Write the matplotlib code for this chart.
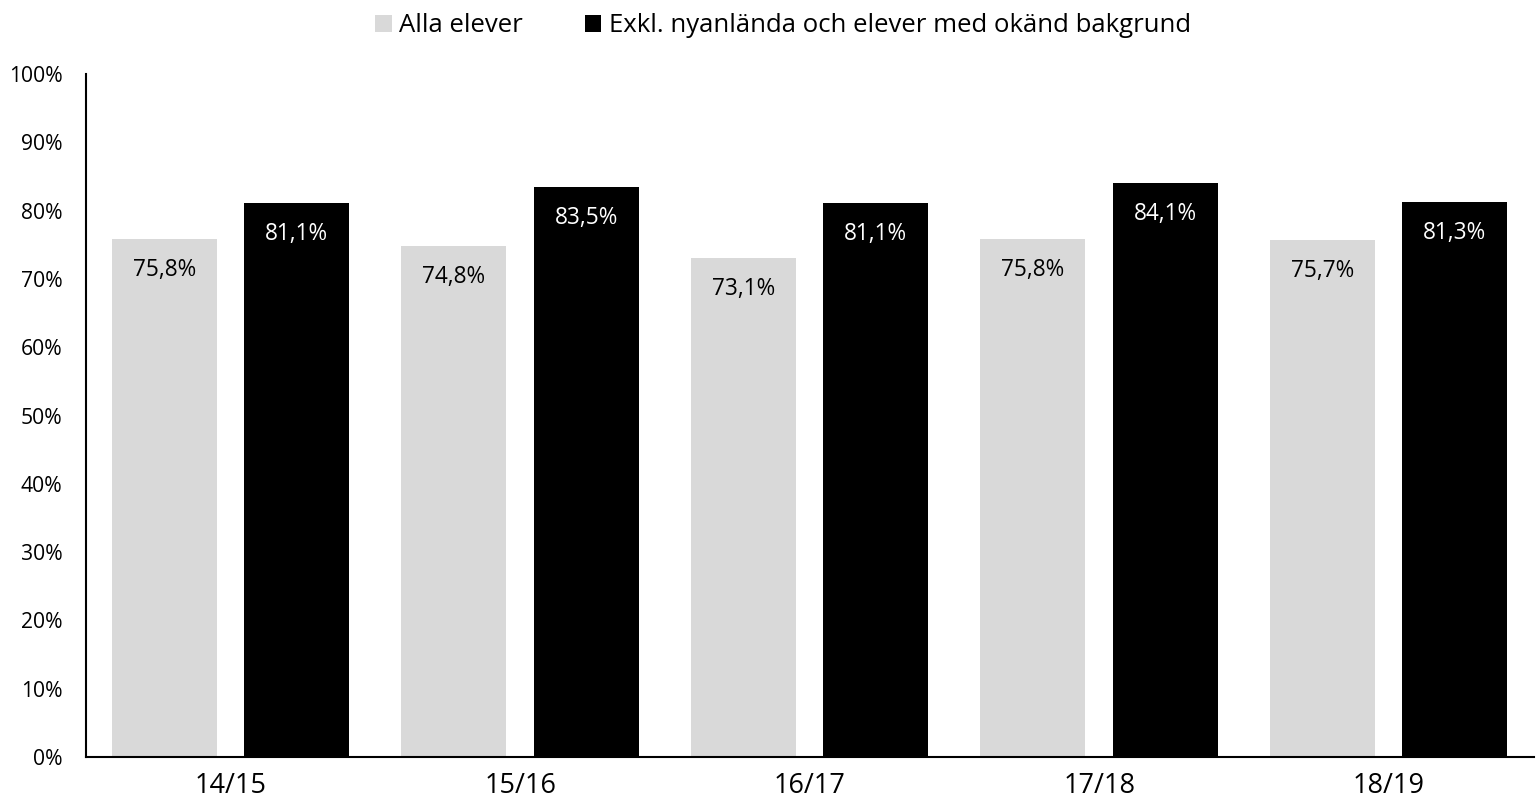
import matplotlib.pyplot as plt
import numpy as np

plt.rcParams['font.family'] = ['Open Sans', 'DejaVu Sans']

years = ["14/15", "15/16", "16/17", "17/18", "18/19"]
alla = [75.8, 74.8, 73.1, 75.8, 75.7]
exkl = [81.1, 83.5, 81.1, 84.1, 81.3]
series_names = ["Alla elever", "Exkl. nyanlända och elever med okänd bakgrund"]

fig = plt.figure(figsize=(15.37, 8.09), dpi=100)
ax = fig.add_axes([86 / 1537, 52 / 809, 1447.5 / 1537, 683 / 809])

x = np.arange(len(years))
w = 0.363
b1 = ax.bar(x - 0.23, alla, w, color='#d9d9d9', label=series_names[0])
b2 = ax.bar(x + 0.228, exkl, w, color='black', label=series_names[1])

for rect, v in zip(b1, alla):
    ax.annotate(f"{v:.1f}%".replace('.', ','), (rect.get_x() + rect.get_width() / 2, v),
                xytext=(0, -31), textcoords='offset pixels', ha='center', va='center',
                fontsize=16.3, color='black')
for rect, v in zip(b2, exkl):
    ax.annotate(f"{v:.1f}%".replace('.', ','), (rect.get_x() + rect.get_width() / 2, v),
                xytext=(0, -31), textcoords='offset pixels', ha='center', va='center',
                fontsize=16.3, color='white')

ax.set_xlim(-0.5, len(years) - 0.5)
ax.set_ylim(0, 100)
ax.set_yticks(range(0, 101, 10))
ax.set_yticklabels([f"{t}%" for t in range(0, 101, 10)], fontsize=15.2)
ax.set_xticks(x)
ax.set_xticklabels(years, fontsize=19.5)
ax.tick_params(length=0)
ax.tick_params(axis='y', pad=17)
ax.tick_params(axis='x', pad=11)
for s in ['top', 'right']:
    ax.spines[s].set_visible(False)
for s in ['left', 'bottom']:
    ax.spines[s].set_linewidth(1.5)

fig.legend(loc='upper center', bbox_to_anchor=(0.5095, 1.012), ncol=2, frameon=False,
           fontsize=18.5, handlelength=0.65, handleheight=0.65, handletextpad=0.3,
           columnspacing=2.4)

fig.savefig("out.png", dpi=100)
